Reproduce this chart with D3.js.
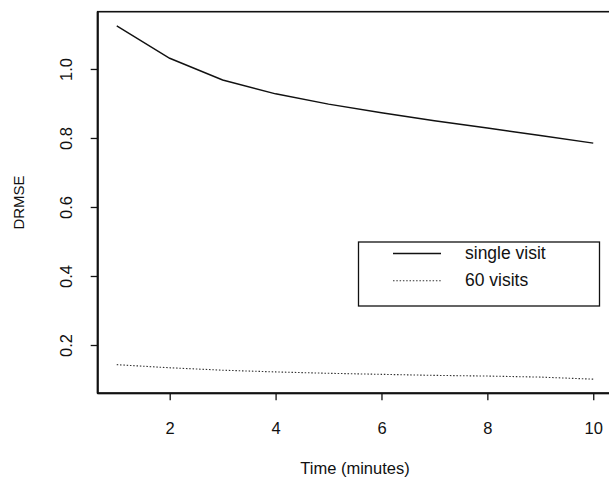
<!DOCTYPE html>
<html>
<head>
<meta charset="utf-8">
<script src="https://cdn.jsdelivr.net/npm/d3@7"></script>
<style>
  html, body { margin: 0; padding: 0; background: #fff; }
  svg { display: block; }
  text { font-family: "Liberation Sans", Arial, Helvetica, sans-serif; fill: #111; }
</style>
</head>
<body>
<svg id="chart" width="609" height="480"></svg>
<script>
// ---- data ----
const minutes = [1, 2, 3, 4, 5, 6, 7, 8, 9, 10];
const singleVisit = [1.125, 1.031, 0.968, 0.928, 0.898, 0.873, 0.850, 0.829, 0.807, 0.785];
const sixtyVisits = [0.143, 0.134, 0.127, 0.122, 0.118, 0.115, 0.112, 0.110, 0.107, 0.101];
const xTicks = [2, 4, 6, 8, 10];
const yTicks = [0.2, 0.4, 0.6, 0.8, 1.0];
const seriesNames = ["single visit", "60 visits"];
const xTitle = "Time (minutes)";
const yTitle = "DRMSE";

// ---- layout ----
const svg = d3.select("#chart");
const plot = { left: 97.7, right: 612.3, top: 11.7, bottom: 393.3 };

function padded(ext) {
  const r = ext[1] - ext[0];
  return [ext[0] - 0.04 * r, ext[1] + 0.04 * r];
}
const x = d3.scaleLinear().domain(padded(d3.extent(minutes))).range([plot.left, plot.right]);
const allY = singleVisit.concat(sixtyVisits);
const y = d3.scaleLinear().domain(padded(d3.extent(allY))).range([plot.bottom, plot.top]);

const fs = 16.5;

// box
svg.append("rect")
  .attr("x", plot.left).attr("y", plot.top)
  .attr("width", plot.right - plot.left).attr("height", plot.bottom - plot.top)
  .attr("fill", "none").attr("stroke", "#111").attr("stroke-width", 1.6);
svg.append("line").attr("x1", plot.left).attr("x2", plot.left)
  .attr("y1", plot.top).attr("y2", plot.bottom)
  .attr("stroke", "#111").attr("stroke-width", 2);
svg.append("line").attr("x1", plot.left).attr("x2", plot.right)
  .attr("y1", plot.bottom).attr("y2", plot.bottom)
  .attr("stroke", "#111").attr("stroke-width", 2);

// x axis
const xAxis = d3.axisBottom(x).tickValues(xTicks).tickSize(7).tickPadding(0).tickFormat(d3.format("d"));
const gx = svg.append("g").attr("transform", `translate(0,${plot.bottom})`).call(xAxis);
gx.select(".domain").remove();
gx.selectAll(".tick line").attr("stroke", "#111").attr("stroke-width", 1.3);
gx.selectAll(".tick text").attr("y", 0).attr("dy", 0)
  .attr("transform", "translate(0,41)")
  .style("font-size", fs + "px").attr("font-family", null).attr("fill", "#111");

// y axis
const yAxis = d3.axisLeft(y).tickValues(yTicks).tickSize(7).tickFormat(d3.format(".1f"));
const gy = svg.append("g").attr("transform", `translate(${plot.left},0)`).call(yAxis);
gy.select(".domain").remove();
gy.selectAll(".tick line").attr("stroke", "#111").attr("stroke-width", 1.3);
gy.selectAll(".tick text")
  .attr("x", null).attr("dy", null)
  .attr("text-anchor", "middle")
  .attr("transform", `translate(${72 - plot.left},0) rotate(-90)`)
  .style("font-size", fs + "px").attr("font-family", null).attr("fill", "#111");

// titles
svg.append("text")
  .attr("x", (plot.left + plot.right) / 2).attr("y", 474)
  .attr("text-anchor", "middle").style("font-size", fs + "px")
  .text(xTitle);
svg.append("text")
  .attr("transform", `translate(24,${(plot.top + plot.bottom) / 2}) rotate(-90)`)
  .attr("text-anchor", "middle").style("font-size", "15px")
  .text(yTitle);

// lines
const line = d3.line().x((d, i) => x(minutes[i])).y(d => y(d));
svg.append("path").datum(singleVisit)
  .attr("d", line).attr("fill", "none")
  .attr("stroke", "#111").attr("stroke-width", 1.4);
svg.append("path").datum(sixtyVisits)
  .attr("d", line).attr("fill", "none")
  .attr("stroke", "#333").attr("stroke-width", 1.1).attr("stroke-dasharray", "1.5,1.8");

// legend
const lg = svg.append("g");
lg.append("rect").attr("x", 358.5).attr("y", 242).attr("width", 241).attr("height", 64)
  .attr("fill", "#fff").attr("stroke", "#111").attr("stroke-width", 1.3);
const styles = [
  { stroke: "#111", w: 1.4, dash: null },
  { stroke: "#333", w: 1.1, dash: "1.5,1.8" }
];
seriesNames.forEach((name, i) => {
  const yy = 253.5 + i * 27.3;
  lg.append("line").attr("x1", 393).attr("x2", 441).attr("y1", yy).attr("y2", yy)
    .attr("stroke", styles[i].stroke).attr("stroke-width", styles[i].w)
    .attr("stroke-dasharray", styles[i].dash);
  lg.append("text").attr("x", 465).attr("y", yy + 5.5)
    .style("font-size", "17.5px").text(name);
});
</script>
</body>
</html>
